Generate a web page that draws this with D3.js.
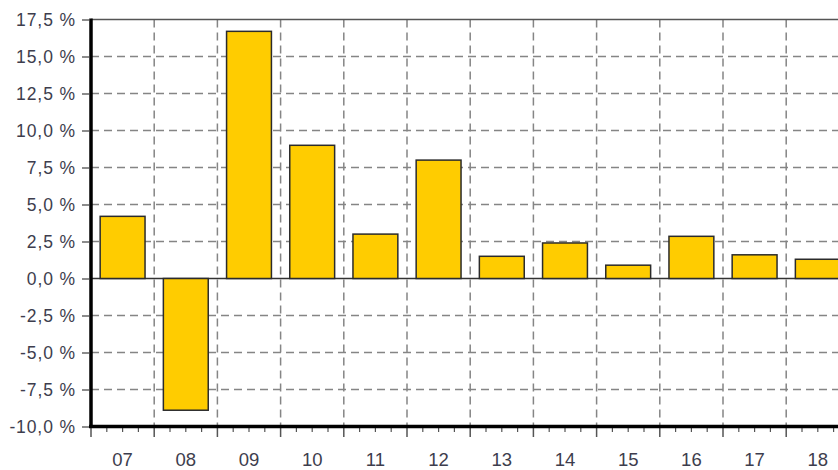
<!DOCTYPE html>
<html>
<head>
<meta charset="utf-8">
<script src="https://cdn.jsdelivr.net/npm/d3@7"></script>
<style>
  html, body { margin: 0; padding: 0; background: #fff; }
  svg { display: block; }
  text { font-family: "Liberation Sans", Arial, sans-serif; fill: #3d3d4d; }
</style>
</head>
<body>
<svg id="chart" width="838" height="470"></svg>
<script>
const categories = ["07","08","09","10","11","12","13","14","15","16","17","18"];
const values = [4.2, -8.9, 16.7, 9.0, 3.0, 8.0, 1.5, 2.4, 0.9, 2.85, 1.6, 1.3];
const yTicks = [-10, -7.5, -5, -2.5, 0, 2.5, 5, 7.5, 10, 12.5, 15, 17.5];

(function () {
const svg = d3.select("#chart");
const W = 838;
const plotLeft = 91, plotTop = 19.5, plotBottom = 426.5, bandStep = 63.2;
const plotRight = plotLeft + categories.length * bandStep;

const x = d3.scaleBand().domain(categories).range([plotLeft, plotRight])
  .paddingInner(0.29).paddingOuter(0.145);
const y = d3.scaleLinear().domain([-10, 17.5]).range([plotBottom, plotTop]);

const bstep = x.step();
const boundaries = d3.range(categories.length + 1).map(i => plotLeft + i * bstep);

// horizontal gridlines
svg.append("g").selectAll("line").data(yTicks.filter(v => v !== -10 && v !== 17.5 && v !== 0))
  .join("line")
  .attr("x1", plotLeft).attr("x2", W)
  .attr("y1", d => y(d)).attr("y2", d => y(d))
  .attr("stroke", "#858585").attr("stroke-width", 1.5)
  .attr("stroke-dasharray", "8,5");

// vertical gridlines
svg.append("g").selectAll("line").data(boundaries.slice(1))
  .join("line")
  .attr("x1", d => d).attr("x2", d => d)
  .attr("y1", plotTop).attr("y2", plotBottom)
  .attr("stroke", "#858585").attr("stroke-width", 1.5)
  .attr("stroke-dasharray", "8,5");

// top border
svg.append("line").attr("x1", plotLeft).attr("x2", W)
  .attr("y1", plotTop).attr("y2", plotTop)
  .attr("stroke", "#555").attr("stroke-width", 1.5);

// zero line
svg.append("line").attr("x1", plotLeft).attr("x2", W)
  .attr("y1", y(0)).attr("y2", y(0))
  .attr("stroke", "#333").attr("stroke-width", 1.5);

// bars
svg.append("g").selectAll("rect").data(categories.map((c, i) => ({c, v: values[i]})))
  .join("rect")
  .attr("x", d => x(d.c))
  .attr("width", x.bandwidth())
  .attr("y", d => y(Math.max(0, d.v)))
  .attr("height", d => Math.abs(y(d.v) - y(0)))
  .attr("fill", "#ffcc00")
  .attr("stroke", "#2b2b2b").attr("stroke-width", 1.5);

// y axis
const yAxis = d3.axisLeft(y).tickValues(yTicks)
  .tickFormat(d => d.toFixed(1).replace(".", ",") + " %")
  .tickSize(7).tickPadding(6);
const gy = svg.append("g").attr("transform", `translate(${plotLeft - 2},0)`).call(yAxis);
gy.select(".domain").remove();
gy.selectAll(".tick line").attr("stroke", "#666").attr("stroke-width", 1.5);
gy.selectAll(".tick text").style("font-size", "17.5px").style("letter-spacing", "0.9px")
  .attr("fill", "#3d3d4d").attr("font-family", "Liberation Sans, Arial, sans-serif");

// x axis labels
const xAxis = d3.axisBottom(x).tickSize(0).tickPadding(26);
const gx = svg.append("g").attr("transform", `translate(0,${plotBottom})`).call(xAxis);
gx.select(".domain").remove();
gx.selectAll(".tick text").style("font-size", "18.5px")
  .attr("fill", "#3d3d4d").attr("font-family", "Liberation Sans, Arial, sans-serif");

// major and minor x ticks
const minor = [];
boundaries.slice(0, -1).forEach(b => { for (let k = 1; k < 4; k++) minor.push(b + k * bstep / 4); });
svg.append("g").selectAll("line").data(boundaries).join("line")
  .attr("x1", d => d).attr("x2", d => d)
  .attr("y1", plotBottom).attr("y2", plotBottom + 10.5)
  .attr("stroke", "#555").attr("stroke-width", 1.5);
svg.append("g").selectAll("line").data(minor).join("line")
  .attr("x1", d => d).attr("x2", d => d)
  .attr("y1", plotBottom).attr("y2", plotBottom + 5.5)
  .attr("stroke", "#555").attr("stroke-width", 1.2);

// axis lines (thick)
svg.append("line").attr("x1", plotLeft).attr("x2", plotLeft)
  .attr("y1", plotTop - 1).attr("y2", plotBottom + 1.5)
  .attr("stroke", "#000").attr("stroke-width", 3.5);
svg.append("line").attr("x1", plotLeft - 2).attr("x2", W)
  .attr("y1", plotBottom).attr("y2", plotBottom)
  .attr("stroke", "#000").attr("stroke-width", 3.5);
})();
</script>
</body>
</html>
